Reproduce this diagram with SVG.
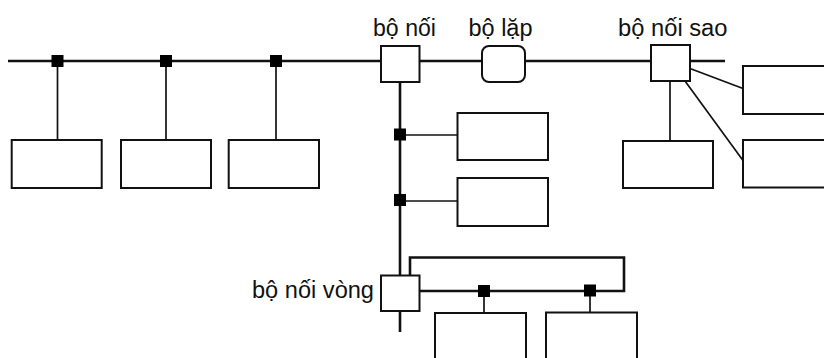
<svg xmlns="http://www.w3.org/2000/svg" width="824" height="358" viewBox="0 0 824 358">
<style>
.box{fill:#fff;stroke:#111;stroke-width:2}
.bus{fill:none;stroke:#111;stroke-width:2.6}
.drop{fill:none;stroke:#111;stroke-width:1.7}
.jn{fill:#000}
.lbl{font-family:"Liberation Sans",Arial,sans-serif;font-size:23px;fill:#111}
</style>
<rect width="824" height="358" fill="#fff"/>
<g id="connectors">
<line class="bus" x1="8" y1="61" x2="725" y2="61"/>
<line class="bus" x1="400" y1="82" x2="400" y2="275"/>
<line class="bus" x1="400" y1="311" x2="400" y2="332"/>
<path class="bus" d="M410,275 V257.5 H624 V291 H420"/>
<line class="drop" x1="57.5" y1="61" x2="57.5" y2="140"/>
<line class="drop" x1="166" y1="61" x2="166" y2="140"/>
<line class="drop" x1="276" y1="61" x2="276" y2="140"/>
<line class="drop" x1="400" y1="135" x2="457.5" y2="135"/>
<line class="drop" x1="400" y1="201" x2="457.5" y2="201"/>
<line class="drop" x1="484" y1="291" x2="484" y2="313"/>
<line class="drop" x1="590" y1="291" x2="590" y2="313"/>
<line class="drop" x1="670" y1="81" x2="670" y2="141"/>
<line class="drop" x1="690" y1="68.5" x2="743" y2="88.5"/>
<line class="drop" x1="685" y1="81" x2="743" y2="160.5"/>
<rect class="jn" x="51.5" y="55" width="12" height="12"/>
<rect class="jn" x="160" y="55" width="12" height="12"/>
<rect class="jn" x="270" y="55" width="12" height="12"/>
<rect class="jn" x="394" y="128.5" width="12" height="12"/>
<rect class="jn" x="394" y="194" width="12" height="12"/>
<rect class="jn" x="478" y="285" width="12" height="12"/>
<rect class="jn" x="584" y="284.5" width="12" height="12"/>
</g>
<g id="ws1"><rect class="box" x="11.7" y="140" width="90" height="48"/></g>
<g id="ws2"><rect class="box" x="121" y="140" width="90" height="48"/></g>
<g id="ws3"><rect class="box" x="228.7" y="140" width="90.3" height="48"/></g>
<g id="bo-noi"><rect class="box" x="381" y="46" width="38.5" height="36"/><text class="lbl" x="373" y="35.5" textLength="63" lengthAdjust="spacingAndGlyphs">bộ nối</text></g>
<g id="bo-lap"><rect class="box" x="482" y="46" width="43" height="36" rx="7"/><text class="lbl" x="468.5" y="35.5" textLength="64" lengthAdjust="spacingAndGlyphs">bộ lặp</text></g>
<g id="bo-noi-sao"><rect class="box" x="651" y="45" width="39" height="36"/><text class="lbl" x="618" y="35.5" textLength="109.5" lengthAdjust="spacingAndGlyphs">bộ nối sao</text></g>
<g id="bo-noi-vong"><rect class="box" x="381" y="275.5" width="38.5" height="35.5"/><text class="lbl" x="252" y="297.5" textLength="122" lengthAdjust="spacingAndGlyphs">bộ nối vòng</text></g>
<g id="ws4"><rect class="box" x="457.5" y="113" width="90.5" height="47"/></g>
<g id="ws5"><rect class="box" x="457.5" y="178" width="90.5" height="48"/></g>
<g id="ws6"><rect class="box" x="435" y="313" width="91" height="60"/></g>
<g id="ws7"><rect class="box" x="546" y="312.5" width="91" height="60"/></g>
<g id="ws8"><rect class="box" x="623" y="141" width="90" height="47"/></g>
<g id="ws9"><rect class="box" x="743" y="66" width="100" height="48"/></g>
<g id="ws10"><rect class="box" x="743" y="140" width="100" height="47.5"/></g>
</svg>
